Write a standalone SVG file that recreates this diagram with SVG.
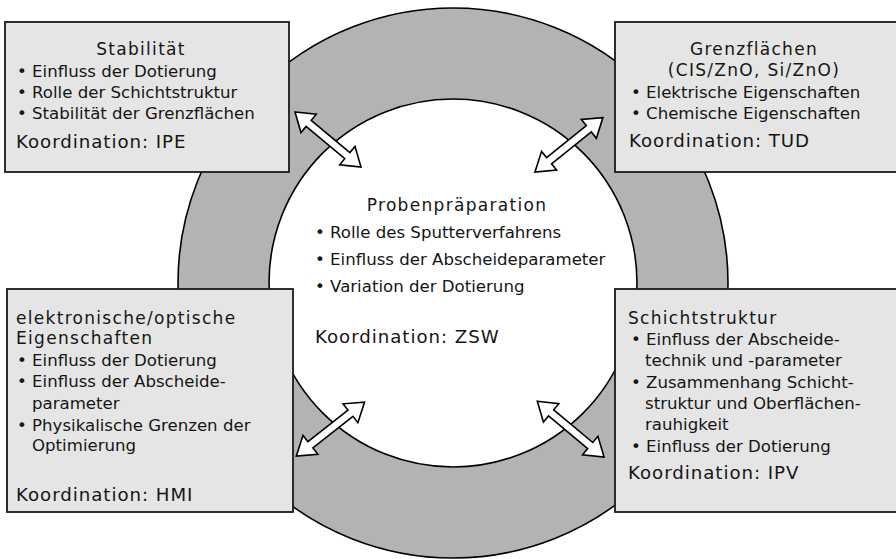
<svg xmlns="http://www.w3.org/2000/svg" xmlns:xlink="http://www.w3.org/1999/xlink" width="896" height="559" viewBox="0 0 896 559">
<style>
  text { font-family: "DejaVu Sans", "Liberation Sans", sans-serif; fill: #151515; }
  .b { font-size: 16.6px; }
  .t { font-size: 17px; letter-spacing: 1.3px; }
  .k { font-size: 18.2px; letter-spacing: 0.95px; }
  .c { text-anchor: middle; }
  .box { fill: #e5e5e5; stroke: #1a1a1a; stroke-width: 1.8; }
  .arr { fill: #ffffff; stroke: #000000; stroke-width: 1.6; stroke-linejoin: miter; }
</style>
<defs>
  <path id="dblarrow" d="M0,0 L18,-12 L18,-4 L69,-4 L69,-12 L87,0 L69,12 L69,4 L18,4 L18,12 Z"/>
</defs>
<rect x="0" y="0" width="896" height="559" fill="#ffffff"/>
<g id="ring">
  <circle cx="453" cy="283" r="275" fill="#b3b3b3" stroke="#000" stroke-width="1.6"/>
  <circle cx="453" cy="283" r="184" fill="#ffffff" stroke="#000" stroke-width="1.6"/>
</g>
<g id="center">
  <text class="t c" x="457" y="211">Probenpräparation</text>
  <text class="b" x="315" y="238">• Rolle des Sputterverfahrens</text>
  <text class="b" x="315" y="265">• Einfluss der Abscheideparameter</text>
  <text class="b" x="315" y="292">• Variation der Dotierung</text>
  <text class="k" x="315" y="343">Koordination: ZSW</text>
</g>
<g id="stabilitaet">
  <rect class="box" x="5" y="22" width="284" height="150"/>
  <text class="t c" x="141" y="55">Stabilität</text>
  <text class="b" x="17" y="77">• Einfluss der Dotierung</text>
  <text class="b" x="17" y="98">• Rolle der Schichtstruktur</text>
  <text class="b" x="17" y="119">• Stabilität der Grenzflächen</text>
  <text class="k" x="16" y="148">Koordination: IPE</text>
</g>
<g id="grenzflaechen">
  <rect class="box" x="615" y="22" width="284" height="150"/>
  <text class="t c" x="754" y="55">Grenzflächen</text>
  <text class="t c" x="754" y="76">(CIS/ZnO, Si/ZnO)</text>
  <text class="b" x="631" y="98">• Elektrische Eigenschaften</text>
  <text class="b" x="631" y="119">• Chemische Eigenschaften</text>
  <text class="k" x="629" y="147">Koordination: TUD</text>
</g>
<g id="eigenschaften">
  <rect class="box" x="7" y="289" width="286" height="223"/>
  <text class="t" x="16" y="324">elektronische/optische</text>
  <text class="t" x="16" y="344">Eigenschaften</text>
  <text class="b" x="17" y="366">• Einfluss der Dotierung</text>
  <text class="b" x="17" y="387">• Einfluss der Abscheide-</text>
  <text class="b" x="32" y="409">parameter</text>
  <text class="b" x="17" y="431">• Physikalische Grenzen der</text>
  <text class="b" x="32" y="451">Optimierung</text>
  <text class="k" x="16" y="501">Koordination: HMI</text>
</g>
<g id="schichtstruktur">
  <rect class="box" x="615" y="289" width="284" height="223"/>
  <text class="t" x="628" y="324">Schichtstruktur</text>
  <text class="b" x="631" y="345">• Einfluss der Abscheide-</text>
  <text class="b" x="645" y="366">technik und -parameter</text>
  <text class="b" x="631" y="388">• Zusammenhang Schicht-</text>
  <text class="b" x="645" y="409">struktur und Oberflächen-</text>
  <text class="b" x="645" y="430">rauhigkeit</text>
  <text class="b" x="631" y="452">• Einfluss der Dotierung</text>
  <text class="k" x="628" y="479">Koordination: IPV</text>
</g>
<g id="connectors">
  <use xlink:href="#dblarrow" class="arr" transform="translate(295,112) rotate(39.8) scale(0.987,1)"/>
  <use xlink:href="#dblarrow" class="arr" transform="translate(535,172) rotate(-38.7)"/>
  <use xlink:href="#dblarrow" class="arr" transform="translate(296.3,456) rotate(-38.3)"/>
  <use xlink:href="#dblarrow" class="arr" transform="translate(537.3,401.3) rotate(39.9)"/>
</g>
</svg>
